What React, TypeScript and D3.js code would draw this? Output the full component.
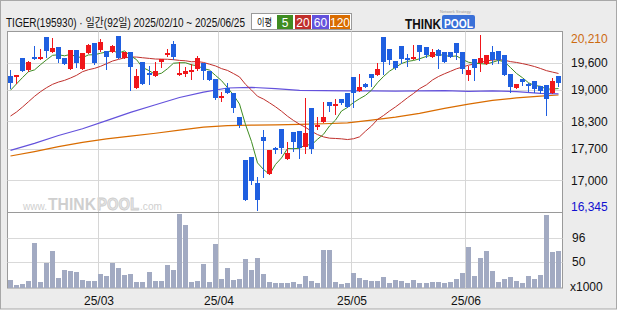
import React from "react";
import * as d3 from "d3";

// ---- data ----
const feb = [10, 11, 12, 13, 14, 17, 18, 19, 20, 21, 24, 25, 26, 27, 28];
const mar = [4, 5, 6, 7, 10, 11, 12, 13, 14, 17, 18, 19, 20, 21, 24, 25, 26, 27, 28, 31];
const apr = [1, 2, 3, 4, 7, 8, 9, 10, 11, 14, 15, 16, 17, 18, 21, 22, 23, 24, 25, 28, 29, 30];
const may = [2, 7, 8, 9, 12, 13, 14, 15, 16, 19, 20, 21, 22, 23, 26, 27, 28, 29, 30];
const jun = [2, 4, 5, 9, 10, 11, 12, 13, 16, 17, 18, 19, 20, 23, 24, 25];
const tradingDays: string[] = [
  ...feb.map((d) => `25/02/${d}`),
  ...mar.map((d) => `25/03/${d}`),
  ...apr.map((d) => `25/04/${d}`),
  ...may.map((d) => `25/05/${d}`),
  ...jun.map((d) => `25/06/${d}`),
];

const opens = [
  19304, 19311, 19694, 19436, 19716, 19679, 20173, 19841, 19937, 19702,
  19451, 19878, 19451, 19819, 20025, 19878, 19849, 19841, 20190, 19702,
  19834, 19046, 19613, 19378, 19304, 19621, 19761, 20003, 19334, 19356,
  19415, 19451, 19598, 19415, 19230, 18825, 19031, 18921, 18406, 17441,
  17515, 16933, 17957, 17147, 17721, 18126, 17478, 18067, 18089, 17736,
  18597, 18199, 18288, 18737, 18656, 18805, 18928, 19282, 18973, 19120,
  19355, 19326, 20165, 19893, 19635, 19967, 19709, 19687, 19989, 19945,
  19724, 19878, 19834, 19834, 20026, 19834, 19319, 19672, 19598, 19576,
  19834, 19856, 19768, 19341, 19046, 19230, 19135, 19193, 19083, 19105,
  18936, 19304,
];
const highs = [
  19436, 19326, 19709, 19643, 19967, 19893, 20173, 20151, 19937, 19702,
  19878, 19878, 19819, 20011, 20025, 20121, 19863, 19989, 20195, 19834,
  19834, 19451, 19613, 19525, 19613, 19687, 19908, 20077, 19621, 19503,
  19576, 19746, 19598, 19415, 19230, 18958, 19142, 18921, 18406, 17441,
  17515, 17080, 18111, 17669, 17736, 18126, 17846, 18067, 18089, 18825,
  18597, 18398, 18737, 18737, 18789, 18805, 18928, 19282, 19355, 19157,
  19355, 19598, 20165, 19893, 19635, 19967, 19783, 19989, 19989, 19945,
  19893, 19893, 19834, 19841, 20026, 19834, 19525, 19672, 20210, 19768,
  19967, 19856, 19768, 19341, 19120, 19230, 19157, 19193, 19083, 19105,
  19267, 19304,
];
const lows = [
  19031, 19157, 19410, 19422, 19672, 19672, 19731, 19841, 19621, 19569,
  19451, 19495, 19451, 19805, 19562, 19863, 19459, 19841, 19709, 19702,
  18988, 19046, 19120, 19135, 19304, 19503, 19746, 19672, 19319, 19312,
  19230, 19429, 19245, 19208, 18789, 18759, 18921, 18516, 18185, 16565,
  16926, 16345, 17080, 17147, 17611, 17596, 17478, 17647, 17500, 17611,
  17611, 18126, 18288, 18531, 18457, 18693, 18619, 18619, 18973, 19068,
  19083, 19326, 19341, 19562, 19451, 19598, 19525, 19687, 19650, 19724,
  19724, 19473, 19613, 19724, 19672, 19378, 19223, 19223, 19414, 19576,
  19562, 19598, 19326, 18958, 19031, 19105, 18973, 18950, 18936, 18443,
  18936, 19083,
];
const closes = [
  19142, 19326, 19422, 19621, 19687, 19716, 19863, 19915, 19687, 19569,
  19878, 19598, 19819, 19989, 19584, 20048, 19731, 19974, 19709, 19834,
  19510, 19304, 19120, 19319, 19415, 19672, 19805, 19724, 19370, 19415,
  19444, 19694, 19415, 19208, 18825, 18870, 18921, 18590, 18222, 16565,
  16985, 16565, 17868, 17669, 17669, 17706, 17603, 17846, 17721, 18045,
  17699, 18222, 18398, 18641, 18693, 18700, 18619, 18936, 19061, 19068,
  19267, 19451, 19621, 19650, 19488, 19687, 19687, 19724, 19834, 19761,
  19834, 19746, 19613, 19724, 19819, 19451, 19437, 19488, 19694, 19768,
  19650, 19650, 19326, 19061, 19120, 19171, 19098, 19024, 18973, 18803,
  19193, 19142,
];
// volume, x1000 shares
const volumes = [
  14.7, 5.1, 7.0, 12.8, 85.6, 10.9, 47.3, 70.3, 18.5, 33.9,
  32.6, 30.0, 14.7, 12.8, 12.8, 26.2, 22.4, 47.3, 37.7, 24.3,
  26.2, 11.5, 10.9, 30.0, 12.8, 12.8, 43.5, 33.9, 141.0, 120.0,
  10.9, 12.8, 45.4, 10.9, 83.7, 16.6, 37.7, 14.7, 16.6, 55.0,
  33.9, 56.9, 26.2, 10.9, 8.9, 8.9, 8.9, 10.9, 7.0, 22.4,
  12.8, 8.9, 72.2, 72.2, 10.9, 7.0, 8.9, 28.1, 18.5, 14.7,
  12.8, 12.8, 20.4, 8.9, 14.7, 12.8, 8.9, 14.7, 8.9, 8.9,
  10.9, 10.9, 8.9, 10.9, 16.6, 28.1, 78.0, 22.4, 56.9, 70.3,
  31.9, 10.9, 16.6, 20.4, 12.8, 8.9, 22.4, 16.6, 24.3, 139.0,
  68.4, 70.3,
];

// moving averages read before enough history is on the chart
const ma5Head = [18990, 19130, 19270, 19400];
const ma20Head = [
  18420, 18509, 18619, 18737, 18855, 18958, 19046, 19120, 19171, 19208,
  19260, 19319, 19400, 19444, 19473, 19518, 19576, 19635, 19672,
];
// long moving averages read at sample days
const maSampleDays = [0, 4, 8, 12, 16, 20, 24, 28, 32, 36, 40, 44, 48, 52, 56, 60, 64, 68, 72, 76, 80, 84, 88, 91];
const ma60Samples = [
  17662, 17817, 17990, 18140, 18320, 18500, 18670, 18830, 18950, 19040,
  19054, 19025, 18985, 18980, 18975, 18975, 18970, 18975, 18980, 18965,
  18975, 18960, 18920, 18910,
];
const ma120Samples = [
  17537, 17635, 17745, 17840, 17915, 17975, 18040, 18110, 18175, 18210,
  18218, 18225, 18235, 18250, 18270, 18330, 18395, 18480, 18590, 18685,
  18765, 18820, 18862, 18885,
];

const priceTicks = [19600, 19000, 18300, 17700, 17000];
const priceMax = 20210;
const priceMin = 16345;
const volumeTicks = [96, 50];
const volumeUnit = "x1000";
const maLabels = ["5", "20", "60", "120"];
const maColors = ["#3f8c22", "#c0302c", "#6452dc", "#d96c00"];
const titleText = "TIGER(195930) · 일간(92일) 2025/02/10 ~ 2025/06/25";
const legendTitle = "이평";
const watermarkParts = ["www.", "THINK", "POOL", ".com"];

const FONT = "'Liberation Sans', Arial, 'Noto Sans CJK KR', sans-serif";
const UP = "#f0161a";
const DOWN = "#1f5fe0";

function movingAvg(period: number, head: number[]) {
  return closes.map((_, i) =>
    i < period - 1 ? head[i] : (d3.mean(closes.slice(i - period + 1, i + 1)) as number)
  );
}

export default function App() {
  const left = 7.5, right = 562.5, top = 31.5, priceBottom = 212.5, volBottom = 288;
  const n = closes.length;
  const x = d3.scaleBand<number>().domain(d3.range(n)).range([left, right - 1]);
  const bw = x.bandwidth();
  const cx = (i: number) => Math.floor((x(i) as number) + bw / 2);
  const y = d3.scaleLinear().domain([priceMin, priceMax]).range([210, 35]);
  const yv = d3.scaleLinear().domain([0, 143]).range([volBottom, 213]);

  const ma5 = movingAvg(5, ma5Head);
  const ma20 = movingAvg(20, ma20Head);
  const lineFull = d3.line<number>().x((_, i) => cx(i) + 0.5).y((v) => y(v));
  const lineSample = d3
    .line<number>()
    .x((_, k) => cx(maSampleDays[k]) + 0.5)
    .y((v) => y(v));

  // month boundaries
  const monthStarts: { i: number; label: string }[] = [];
  tradingDays.forEach((d, i) => {
    if (i > 0 && d.slice(0, 5) !== tradingDays[i - 1].slice(0, 5)) {
      monthStarts.push({ i, label: d.slice(0, 5) });
    }
  });

  const legendX = [277, 295, 312, 330];
  const legendW = [16, 16, 17, 20];
  const wmX = [23, 48, 97, 140];
  const wmW = [24, 48, 42, 22];
  const wmSize = [11, 17, 17, 11];

  return (
    <svg
      width={620}
      height={310}
      style={{ position: "absolute", left: 0, top: 0 }}
      fontFamily={FONT}
    >
      <rect x={0} y={0} width={620} height={310} fill="#ffffff" />
      <rect x={0.5} y={0.5} width={616} height={308.5} fill="#ececec" stroke="#a8a8a8" />
      {/* title */}
      <text x={6} y={27} fontSize={12} fill="#111" textLength={239} lengthAdjust="spacingAndGlyphs">
        {titleText}
      </text>
      {/* legend */}
      <rect x={251.5} y={13.5} width={100} height={16} fill="#fff" stroke="#9a9a9a" />
      <text x={257} y={26} fontSize={10.5} fill="#111" textLength={15} lengthAdjust="spacingAndGlyphs">
        {legendTitle}
      </text>
      {maLabels.map((l, k) => (
        <g key={l}>
          <rect x={legendX[k]} y={15} width={legendW[k]} height={14} fill={maColors[k]} />
          <text
            x={legendX[k] + legendW[k] / 2}
            y={26.5}
            fontSize={12}
            fill="#fff"
            textAnchor="middle"
          >
            {l}
          </text>
        </g>
      ))}
      {/* logo */}
      <text x={440} y={13} fontSize={4} fill="#999">Network Strategy</text>
      <text x={405} y={28.5} fontSize={14} fontWeight="bold" fill="#111" textLength={36} lengthAdjust="spacingAndGlyphs">
        THINK
      </text>
      <rect x={442} y={15} width={33} height={14} rx={2} fill="#3a70d8" />
      <text x={444} y={27.5} fontSize={13} fontWeight="bold" fill="#fff" textLength={29} lengthAdjust="spacingAndGlyphs">
        POOL
      </text>

      {/* plot area */}
      <rect x={left} y={top} width={right - left} height={volBottom - top} fill="#fff" stroke="#9a9a9a" />
      {/* watermark */}
      {watermarkParts.map((p, k) => (
        <text
          key={p}
          x={wmX[k]}
          y={210}
          fontSize={wmSize[k]}
          fontWeight={k === 1 || k === 2 ? "bold" : "normal"}
          fill={k === 2 ? "#e4e4e4" : "#cfcfcf"}
          stroke={k === 2 ? "#cccccc" : "none"}
          strokeWidth={0.8}
          textLength={wmW[k]}
          lengthAdjust="spacingAndGlyphs"
        >
          {p}
        </text>
      ))}
      {/* horizontal grid */}
      {priceTicks.map((t) => (
        <line key={t} x1={left} x2={right} y1={Math.round(y(t)) + 0.5} y2={Math.round(y(t)) + 0.5} stroke="#d9d9d9" />
      ))}
      {volumeTicks.map((t) => (
        <line key={t} x1={left} x2={right} y1={Math.round(yv(t)) + 0.5} y2={Math.round(yv(t)) + 0.5} stroke="#d9d9d9" />
      ))}
      {/* vertical grid */}
      {monthStarts.map((m) => (
        <line key={m.label} x1={Math.round(x(m.i) as number) + 0.5} x2={Math.round(x(m.i) as number) + 0.5} y1={top} y2={volBottom} stroke="#d6d6d6" />
      ))}
      <line x1={left} x2={right} y1={priceBottom} y2={priceBottom} stroke="#9a9a9a" />

      {/* moving averages */}
      <path d={lineSample(ma120Samples) || ""} fill="none" stroke={maColors[3]} strokeWidth={1.2} />
      <path d={lineSample(ma60Samples) || ""} fill="none" stroke={maColors[2]} strokeWidth={1.2} />
      <path d={lineFull(ma20) || ""} fill="none" stroke={maColors[1]} strokeWidth={1} />
      <path d={lineFull(ma5) || ""} fill="none" stroke={maColors[0]} strokeWidth={1} />

      {/* candles */}
      {closes.map((c, i) => {
        const o = opens[i];
        const col = c >= o ? UP : DOWN;
        const yTop = Math.round(y(Math.max(o, c)));
        const yBot = Math.round(y(Math.min(o, c)));
        const xc = cx(i);
        return (
          <g key={i}>
            <line x1={xc + 0.5} x2={xc + 0.5} y1={Math.round(y(highs[i]))} y2={Math.round(y(lows[i])) + 1} stroke={col} />
            <rect x={xc - 2} y={yTop} width={5} height={Math.max(2, yBot - yTop)} fill={col} />
          </g>
        );
      })}

      {/* volume */}
      {volumes.map((v, i) => {
        const yt = Math.round(yv(v));
        return <rect key={i} x={cx(i) - 2} y={yt} width={5} height={volBottom - yt} fill="#a2aac2" />;
      })}

      {/* right axis */}
      <text x={571} y={42.5} fontSize={12} fill="#cc6a10">{d3.format(",")(priceMax)}</text>
      {priceTicks.map((t) => (
        <text key={t} x={571} y={y(t) + 4.5} fontSize={12} fill="#111">{d3.format(",")(t)}</text>
      ))}
      <text x={571} y={211} fontSize={12} fill="#1010d0">{d3.format(",")(priceMin)}</text>
      {volumeTicks.map((t) => (
        <text key={t} x={572} y={yv(t) + 4.5} fontSize={12} fill="#111">{t}</text>
      ))}
      <text x={570} y={291} fontSize={12} fill="#111">{volumeUnit}</text>

      {/* month labels */}
      {monthStarts.map((m) => (
        <text key={m.label} x={Math.round(x(m.i) as number) + 1} y={305} fontSize={12} fill="#111" textAnchor="middle">
          {m.label}
        </text>
      ))}
    </svg>
  );
}
